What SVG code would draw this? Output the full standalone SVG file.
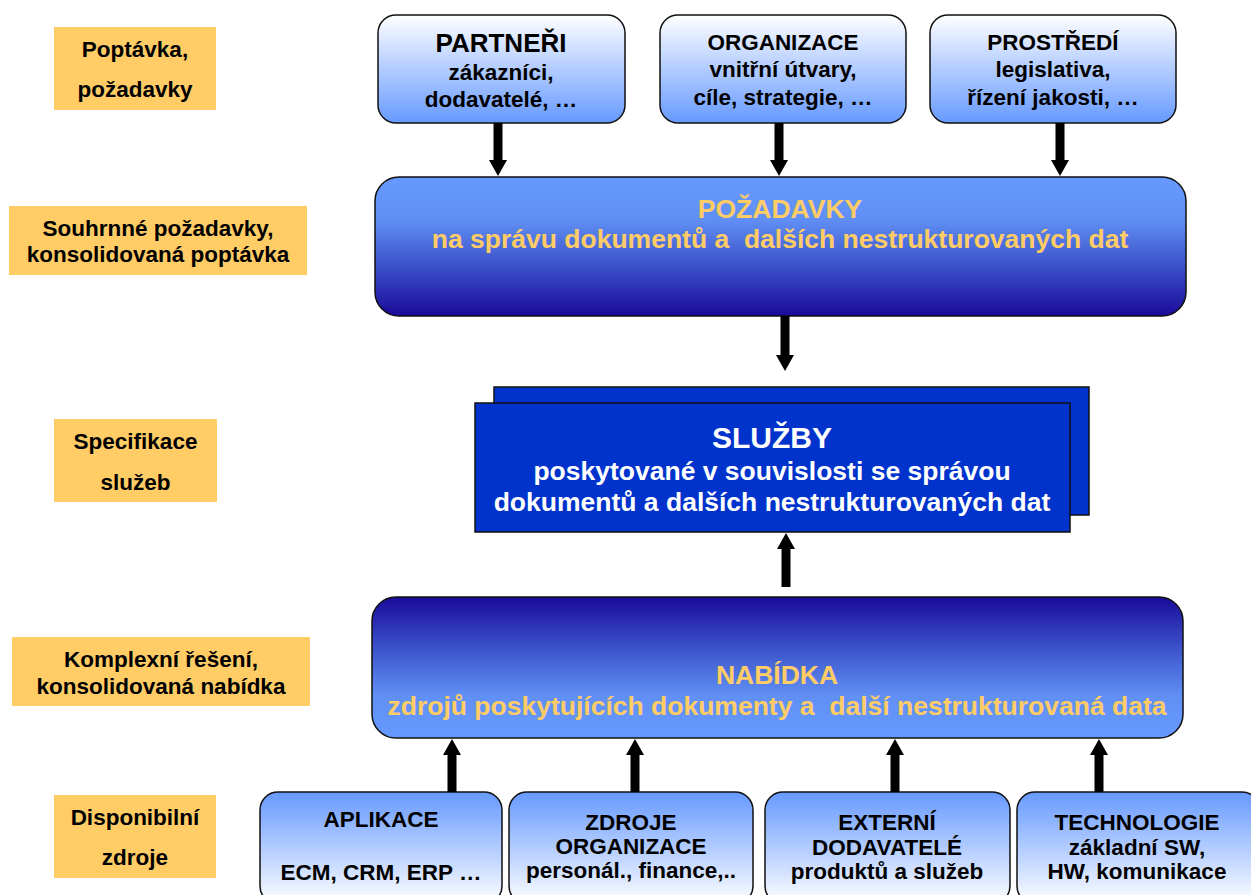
<svg xmlns="http://www.w3.org/2000/svg" width="1251" height="895" viewBox="0 0 1251 895">
<defs>
<linearGradient id="gTop" x1="0" y1="0" x2="0" y2="1"><stop offset="0" stop-color="#FFFFFF"/><stop offset="1" stop-color="#6699FF"/></linearGradient>
<linearGradient id="gBot" x1="0" y1="0" x2="0" y2="1"><stop offset="0" stop-color="#6699FF"/><stop offset="1" stop-color="#FFFFFF"/></linearGradient>
<linearGradient id="gReq" x1="0" y1="0" x2="0" y2="1"><stop offset="0" stop-color="#6699FF"/><stop offset="0.3" stop-color="#6190F5"/><stop offset="0.65" stop-color="#3A50C8"/><stop offset="1" stop-color="#1A0A9A"/></linearGradient>
<linearGradient id="gOff" x1="0" y1="0" x2="0" y2="1"><stop offset="0" stop-color="#1A0A9A"/><stop offset="0.35" stop-color="#3A50C8"/><stop offset="0.7" stop-color="#6190F5"/><stop offset="1" stop-color="#6699FF"/></linearGradient>
<style>
.lbl{fill:#FFCC66}
.lt{font-family:"Liberation Sans",Arial,sans-serif;font-weight:bold;font-size:22.5px;fill:#000;text-anchor:middle}
.bx{stroke:#111;stroke-width:1.5}
.bt{font-family:"Liberation Sans",Arial,sans-serif;font-weight:bold;font-size:22.5px;fill:#000;text-anchor:middle}
.bt.big{font-size:26px}
.yt{font-family:"Liberation Sans",Arial,sans-serif;font-weight:bold;font-size:26.5px;fill:#FFCC66;text-anchor:middle}
.wt{font-family:"Liberation Sans",Arial,sans-serif;font-weight:bold;font-size:26.5px;fill:#FFFFFF;text-anchor:middle}
.wt.big{font-size:30px}
.arr{fill:#000}
</style>
</defs>
<rect width="1251" height="895" fill="#FFFFFF"/>

<g id="label-poptavka"><rect class="lbl" x="54" y="27" width="162" height="83"/><text class="lt" x="135" y="57">Poptávka,</text><text class="lt" x="135" y="97">požadavky</text></g>
<g id="label-souhrnne"><rect class="lbl" x="9" y="206" width="298" height="69"/><text class="lt" x="158" y="236">Souhrnné požadavky,</text><text class="lt" x="158" y="262">konsolidovaná poptávka</text></g>
<g id="label-specifikace"><rect class="lbl" x="54" y="419" width="163" height="83"/><text class="lt" x="135.5" y="449">Specifikace</text><text class="lt" x="135.5" y="490">služeb</text></g>
<g id="label-komplexni"><rect class="lbl" x="12" y="637" width="298" height="69"/><text class="lt" x="161" y="667">Komplexní řešení,</text><text class="lt" x="161" y="694">konsolidovaná nabídka</text></g>
<g id="label-disponibilni"><rect class="lbl" x="54" y="795" width="162" height="83"/><text class="lt" x="135" y="825">Disponibilní</text><text class="lt" x="135" y="865">zdroje</text></g>

<g id="node-partneri"><rect class="bx" x="378" y="15" width="247" height="108" rx="18" fill="url(#gTop)"/><text class="bt big" x="501" y="52">PARTNEŘI</text><text class="bt" x="501" y="80">zákazníci,</text><text class="bt" x="501" y="107">dodavatelé, …</text></g>
<g id="node-organizace"><rect class="bx" x="660" y="15" width="246" height="108" rx="18" fill="url(#gTop)"/><text class="bt" x="783" y="50">ORGANIZACE</text><text class="bt" x="783" y="77">vnitřní útvary,</text><text class="bt" x="783" y="105">cíle, strategie, …</text></g>
<g id="node-prostredi"><rect class="bx" x="930" y="15" width="246" height="108" rx="18" fill="url(#gTop)"/><text class="bt" x="1053" y="50">PROSTŘEDÍ</text><text class="bt" x="1053" y="77">legislativa,</text><text class="bt" x="1053" y="105">řízení jakosti, …</text></g>

<g id="node-pozadavky"><rect class="bx" x="375" y="177" width="811" height="139" rx="24" fill="url(#gReq)"/><text class="yt" x="780" y="218">POŽADAVKY</text><text class="yt" x="780" y="248" xml:space="preserve">na správu dokumentů a  dalších nestrukturovaných dat</text></g>

<g id="node-sluzby"><rect class="bx" x="494" y="387" width="595" height="128" fill="#0033CC"/><rect class="bx" x="475" y="403" width="595" height="129" fill="#0033CC"/><text class="wt big" x="772" y="448">SLUŽBY</text><text class="wt" x="772" y="480">poskytované v souvislosti se správou</text><text class="wt" x="772" y="511">dokumentů a dalších nestrukturovaných dat</text></g>

<g id="node-nabidka"><rect class="bx" x="372" y="597" width="811" height="141" rx="24" fill="url(#gOff)"/><text class="yt" x="777" y="684">NABÍDKA</text><text class="yt" x="777" y="715" xml:space="preserve">zdrojů poskytujících dokumenty a  další nestrukturovaná data</text></g>

<g id="node-aplikace"><rect class="bx" x="260" y="792" width="242" height="112" rx="18" fill="url(#gBot)"/><text class="bt" x="381" y="827">APLIKACE</text><text class="bt" x="381" y="880">ECM, CRM, ERP …</text></g>
<g id="node-zdroje"><rect class="bx" x="509" y="792" width="244" height="112" rx="18" fill="url(#gBot)"/><text class="bt" x="631" y="830">ZDROJE</text><text class="bt" x="631" y="854">ORGANIZACE</text><text class="bt" x="631" y="878">personál., finance,..</text></g>
<g id="node-externi"><rect class="bx" x="765" y="792" width="245" height="112" rx="18" fill="url(#gBot)"/><text class="bt" x="887" y="830">EXTERNÍ</text><text class="bt" x="887" y="855">DODAVATELÉ</text><text class="bt" x="887" y="879">produktů a služeb</text></g>
<g id="node-technologie"><rect class="bx" x="1017" y="792" width="243" height="112" rx="18" fill="url(#gBot)"/><text class="bt" x="1137" y="830">TECHNOLOGIE</text><text class="bt" x="1137" y="855">základní SW,</text><text class="bt" x="1137" y="879">HW, komunikace</text></g>

<g id="connectors">
<path class="arr" d="M493.5 123 L502.5 123 L502.5 160 L507 160 L498 176 L489 160 L493.5 160 Z"/>
<path class="arr" d="M774.5 123 L783.5 123 L783.5 160 L788 160 L779 176 L770 160 L774.5 160 Z"/>
<path class="arr" d="M1055.5 123 L1064.5 123 L1064.5 160 L1069 160 L1060 176 L1051 160 L1055.5 160 Z"/>
<path class="arr" d="M780.5 316 L789.5 316 L789.5 355 L794 355 L785 371 L776 355 L780.5 355 Z"/>
<path class="arr" d="M781.5 587 L790.5 587 L790.5 549 L795 549 L786 533 L777 549 L781.5 549 Z"/>
<path class="arr" d="M447.5 792 L456.5 792 L456.5 755 L461 755 L452 739 L443 755 L447.5 755 Z"/>
<path class="arr" d="M630.5 792 L639.5 792 L639.5 755 L644 755 L635 739 L626 755 L630.5 755 Z"/>
<path class="arr" d="M890.5 792 L899.5 792 L899.5 755 L904 755 L895 739 L886 755 L890.5 755 Z"/>
<path class="arr" d="M1094.5 792 L1103.5 792 L1103.5 755 L1108 755 L1099 739 L1090 755 L1094.5 755 Z"/>
</g>
</svg>
